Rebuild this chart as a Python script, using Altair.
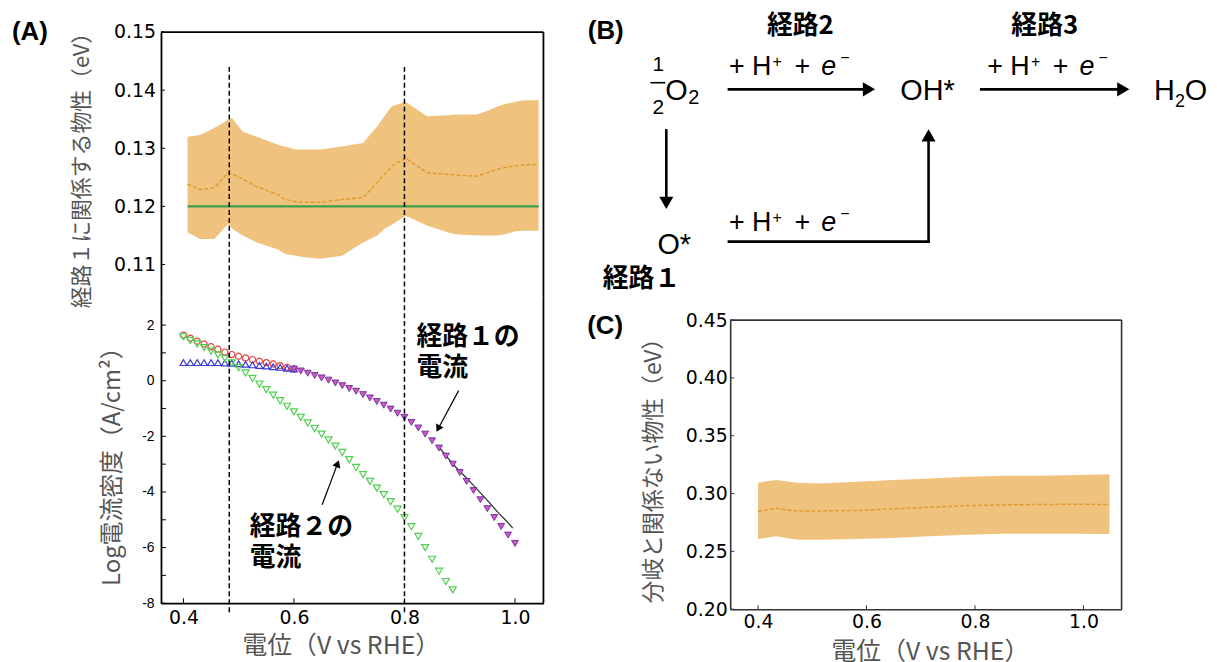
import altair as alt
import pandas as pd

# ---------------- Panel A (upper): property related to path 1 ----------------
TOP_X = [0.4075, 0.430, 0.4557, 0.4813, 0.4877, 0.507, 0.5326, 0.5712, 0.584, 0.6032,
         0.6224, 0.648, 0.6867, 0.7251, 0.7508, 0.7636, 0.7765, 0.802, 0.8406, 0.8791,
         0.8918, 0.9305, 0.9432, 0.9689, 0.9817, 1.001, 1.0138, 1.0427]
TOP_UPPER = [0.1320, 0.1323, 0.1335, 0.1349, 0.1352, 0.1329, 0.1320, 0.1306, 0.1303, 0.1298,
             0.1298, 0.1298, 0.1303, 0.1309, 0.1338, 0.1355, 0.1372, 0.1380, 0.1355, 0.1357,
             0.1358, 0.1358, 0.1362, 0.1372, 0.1376, 0.1380, 0.1382, 0.1383]
TOP_LOWER = [0.1155, 0.1144, 0.1144, 0.1170, 0.1162, 0.1150, 0.1138, 0.1126, 0.1118, 0.1115,
             0.1112, 0.1110, 0.1115, 0.1138, 0.1150, 0.1161, 0.1168, 0.1184, 0.1167, 0.1155,
             0.1152, 0.1150, 0.1150, 0.1150, 0.1152, 0.1157, 0.1158, 0.1158]
TOP_MEAN = [0.1238, 0.1229, 0.1232, 0.1258, 0.1256, 0.1247, 0.1234, 0.1220, 0.1212, 0.1208,
            0.1207, 0.1207, 0.1212, 0.1215, 0.1241, 0.1255, 0.1269, 0.1283, 0.1258, 0.1255,
            0.1254, 0.1252, 0.1256, 0.1264, 0.1267, 0.1270, 0.1271, 0.1272]
GREEN_X = [0.4075, 1.0427]
GREEN_Y = [0.12, 0.12]
VLINE_X = [0.483, 0.80]
VLINE_TOP = [0.144, 0.144]
TOP_TICKS = [0.11, 0.12, 0.13, 0.14, 0.15]

# ---------------- Panel A (lower): log current density ----------------
CURR_X = [0.4, 0.4125, 0.425, 0.4375, 0.45, 0.4625, 0.475, 0.4875, 0.5, 0.5125,
          0.525, 0.5375, 0.55, 0.5625, 0.575, 0.5875, 0.6, 0.6125, 0.625, 0.6375,
          0.65, 0.6625, 0.675, 0.6875, 0.7, 0.7125, 0.725, 0.7375, 0.75, 0.7625,
          0.775, 0.7875, 0.8, 0.8125, 0.825, 0.8375, 0.85, 0.8625, 0.875, 0.8875,
          0.9, 0.9125, 0.925, 0.9375, 0.95, 0.9625, 0.975, 0.9875, 1.0]
TOTAL = [1.64, 1.53, 1.42, 1.32, 1.22, 1.13, 1.03, 0.94, 0.88, 0.82,
         0.76, 0.70, 0.65, 0.60, 0.54, 0.48, 0.42, 0.35, 0.27, 0.19,
         0.10, 0.02, -0.08, -0.18, -0.28, -0.38, -0.50, -0.62, -0.75, -0.88,
         -1.02, -1.17, -1.32, -1.50, -1.70, -1.92, -2.16, -2.42, -2.71, -3.00,
         -3.30, -3.62, -3.95, -4.28, -4.60, -4.92, -5.24, -5.55, -5.85]
PATH2 = [1.58, 1.45, 1.32, 1.19, 1.06, 0.93, 0.80, 0.64, 0.47, 0.28,
         0.08, -0.12, -0.32, -0.52, -0.72, -0.92, -1.12, -1.32, -1.52, -1.72,
         -1.92, -2.13, -2.35, -2.58, -2.84, -3.12, -3.38, -3.62, -3.86, -4.10,
         -4.35, -4.62, -4.92, -5.25, -5.60, -6.00, -6.42, -6.85, -7.22, -7.52]
PATH1_LOW = [0.65, 0.65, 0.65, 0.65, 0.65, 0.65, 0.64, 0.63, 0.61, 0.59,
             0.57, 0.55, 0.53, 0.50, 0.48, 0.45, 0.42]
FIT_X = [0.86, 0.89, 0.91, 0.93, 0.95, 0.97, 0.985, 0.996]
FIT_Y = [-2.33, -3.05, -3.45, -3.87, -4.30, -4.75, -5.05, -5.30]
ANN_TEXT = ["経路１の\n電流", "経路２の\n電流"]
ANN_X = [0.8216, 0.52]
ANN_Y = [2.02, -4.80]
ARR_X1 = [0.898, 0.651]
ARR_Y1 = [-0.357, -4.46]
ARR_X2 = [0.861, 0.679]
ARR_Y2 = [-1.725, -2.98]
ARR_ANGLE = [208, 20]
LOW_XTICKS = [0.4, 0.6, 0.8, 1.0]
LOW_YTICKS = [-8, -7, -6, -5, -4, -3, -2, -1, 0, 1, 2]

# ---------------- Panel C ----------------
C_X = [0.4, 0.434, 0.461, 0.474, 0.514, 0.582, 0.649, 0.716, 0.784, 0.851, 0.918, 0.986, 1.048]
C_UPPER = [0.3094, 0.3117, 0.3100, 0.3094, 0.3088, 0.3103, 0.3117, 0.3131, 0.3145, 0.3154, 0.3154, 0.3160, 0.3166]
C_LOWER = [0.2607, 0.2630, 0.2610, 0.2601, 0.2601, 0.2607, 0.2616, 0.2630, 0.2644, 0.2653, 0.2653, 0.2653, 0.2650]
C_MEAN = [0.2845, 0.2873, 0.2853, 0.2850, 0.2850, 0.2853, 0.2868, 0.2882, 0.2896, 0.2902, 0.2905, 0.2908, 0.2905]
C_YTICKS = [0.20, 0.25, 0.30, 0.35, 0.40, 0.45]

# ---------------- Panel B (reaction scheme) ----------------
B_SEG_X1 = [732, 986, 669, 732, 933]
B_SEG_Y1 = [86.7, 86.7, 128, 240, 240]
B_SEG_X2 = [870, 1126, 669, 933, 933]
B_SEG_Y2 = [86.7, 86.7, 197, 240, 137]
B_HEAD_X = [873, 1129, 669, 933]
B_HEAD_Y = [86.7, 86.7, 201, 133]
B_HEAD_ANGLE = [90, 90, 180, 0]
B_LABEL_TEXT = ["経路2", "経路3", "経路１"]
B_LABEL_X = [804, 1050, 644]
B_LABEL_Y = [23, 23, 278]
B_CHEM_C_TEXT = ["OH*", "O*", "1", "2"]
B_CHEM_C_X = [932, 677, 661, 661]
B_CHEM_C_Y = [97, 252, 68, 112]
B_CHEM_C_SIZE = [29, 29, 21, 21]
B_CHEM_L_TEXT = ["H", "2", "O", "O", "2"]
B_CHEM_L_X = [1160, 1181, 1191, 668, 691]
B_CHEM_L_Y = [97, 104, 97, 97, 101]
B_CHEM_L_SIZE = [29, 18, 29, 29, 20]
B_RXN_BASE_X = [732, 992, 732]
B_RXN_BASE_Y = [72, 72, 229]
RXN_TOKENS = ["+ H", "+", "+", "−"]
RXN_DX = [0, 44, 66, 112]
RXN_DY = [0, -8, 0, -12]
RXN_SIZE = [27, 16, 27, 16]
RXN_E_DX = 93

BAND = "#EFC37E"
MEAN = "#DF9B30"
CJK = "Noto Sans CJK JP"
TITLE_C = "#555555"

one = pd.DataFrame({"k": [0]})

# ======================= Panel A top =======================
W_A, H_AT, H_AB = 385, 267, 308
XA = alt.Scale(domain=[0.3594, 1.0515], nice=False, zero=False)
YAT = alt.Scale(domain=[0.10436, 0.15], nice=False, zero=False)
ax_top_y = alt.Axis(values=TOP_TICKS, format=".2f", ticks=False, labelPadding=5.5,
                    labelFont="DejaVu Sans", labelFontSize=19, labelColor="black",
                    domainColor="black", domainWidth=1.8, grid=False,
                    title="経路１に関係する物性（eV）", titleFont=CJK, titleFontSize=22,
                    titleFontWeight="normal", titleColor=TITLE_C, titlePadding=20)
xt = alt.X("x:Q", scale=XA, axis=None)

top_df = pd.DataFrame({"x": TOP_X, "hi": TOP_UPPER, "lo": TOP_LOWER, "m": TOP_MEAN})
band_t = alt.Chart(top_df).mark_area(color=BAND, opacity=1).encode(
    x=xt, y=alt.Y("hi:Q", scale=YAT, axis=ax_top_y), y2="lo:Q")
mean_t = alt.Chart(top_df).mark_line(color=MEAN, strokeWidth=1.5, strokeDash=[4, 2]).encode(
    x=xt, y=alt.Y("m:Q", scale=YAT, axis=ax_top_y))
green_t = alt.Chart(pd.DataFrame({"x": GREEN_X, "y": GREEN_Y})).mark_line(
    color="#3E9E4E", strokeWidth=2.5).encode(x=xt, y=alt.Y("y:Q", scale=YAT, axis=ax_top_y))
vl_t = alt.Chart(pd.DataFrame({"x": VLINE_X, "y": VLINE_TOP})).mark_rule(
    color="black", strokeWidth=1.5, strokeDash=[5, 3]).encode(
    x=xt, y=alt.Y("y:Q", scale=YAT, axis=ax_top_y), y2=alt.value(H_AT))
tk_t = alt.Chart(pd.DataFrame({"y": TOP_TICKS})).mark_rule(color="black", strokeWidth=1).encode(
    x=alt.value(0), x2=alt.value(4), y=alt.Y("y:Q", scale=YAT, axis=ax_top_y))
fr_t1 = alt.Chart(one).mark_rule(color="black", strokeWidth=1.8).encode(
    x=alt.value(0), x2=alt.value(W_A), y=alt.value(0))
fr_t2 = alt.Chart(one).mark_rule(color="black", strokeWidth=1.8).encode(
    x=alt.value(W_A), y=alt.value(0), y2=alt.value(H_AT))
lab_a = alt.Chart(one).mark_text(font="Liberation Sans", fontSize=26, fontWeight="bold",
                                 align="left", baseline="middle").encode(
    x=alt.value(-150), y=alt.value(0), text=alt.value("(A)"))
inv_a = alt.Chart(one).mark_point(opacity=0, size=1).encode(x=alt.value(-150), y=alt.value(-21))
a_top = alt.layer(band_t, mean_t, green_t, vl_t, tk_t, fr_t1, fr_t2, lab_a, inv_a).properties(
    width=W_A, height=H_AT)

# ======================= Panel A bottom =======================
YAB = alt.Scale(domain=[-8, 3], nice=False, zero=False)
ax_b_x = alt.Axis(values=LOW_XTICKS, format=".1f", ticks=False, labelPadding=5,
                  labelFont="DejaVu Sans", labelFontSize=19, labelColor="black",
                  domainColor="black", domainWidth=1.8, grid=False,
                  title="電位（V vs RHE）", titleFont=CJK, titleFontSize=25,
                  titleFontWeight="normal", titleColor=TITLE_C, titlePadding=7,
                  titleX=181, titleAlign="center")
ax_b_y = alt.Axis(values=[-8, -6, -4, -2, 0, 2], labelExpr="datum.value + ''", ticks=False,
                  labelPadding=7, labelFont="Liberation Sans", labelFontSize=14,
                  labelColor="black", domainColor="black", domainWidth=1.8, grid=False,
                  title="Log電流密度（A/cm²）", titleFont=CJK, titleFontSize=24,
                  titleFontWeight="normal", titleColor=TITLE_C, titlePadding=17,
                  titleY=164, titleAlign="center")
xb = alt.X("x:Q", scale=XA, axis=ax_b_x)
yb = lambda f: alt.Y(f, scale=YAB, axis=ax_b_y)

fit_b = alt.Chart(pd.DataFrame({"x": FIT_X, "y": FIT_Y})).mark_line(
    color="#333333", strokeWidth=1.3).encode(x=xb, y=yb("y:Q"))
red_b = alt.Chart(pd.DataFrame({"x": CURR_X[:17], "y": TOTAL[:17]})).mark_point(
    shape="circle", filled=False, color="#E8413C", size=38, strokeWidth=1.2, opacity=1).encode(
    x=xb, y=yb("y:Q"))
blue_b = alt.Chart(pd.DataFrame({"x": CURR_X[:17], "y": PATH1_LOW})).mark_point(
    shape="triangle-up", filled=False, color="#3A3AD0", size=45, strokeWidth=1.2, opacity=1).encode(
    x=xb, y=yb("y:Q"))
green_b = alt.Chart(pd.DataFrame({"x": CURR_X[:40], "y": PATH2})).mark_point(
    shape="triangle-down", filled=False, color="#4DD04D", size=50, strokeWidth=1.2, opacity=1).encode(
    x=xb, y=yb("y:Q"))
purple_b = alt.Chart(pd.DataFrame({"x": CURR_X[16:], "y": TOTAL[16:]})).mark_point(
    shape="triangle-down", filled=True, fill="#CC58C8", stroke="#6A2A9A", size=48,
    strokeWidth=0.9, opacity=1).encode(x=xb, y=yb("y:Q"))
vl_b = alt.Chart(pd.DataFrame({"x": VLINE_X})).mark_rule(
    color="black", strokeWidth=1.5, strokeDash=[5, 3]).encode(
    x=xb, y=alt.value(0), y2=alt.value(H_AB + 10))
ann_b = alt.Chart(pd.DataFrame({"x": ANN_X, "y": ANN_Y, "t": ANN_TEXT})).mark_text(
    font=CJK, fontSize=26, fontWeight="bold", align="left", baseline="top",
    lineBreak="\n", lineHeight=31, color="black").encode(x=xb, y=yb("y:Q"), text="t:N")
arr_df = pd.DataFrame({"x": ARR_X1, "y": ARR_Y1, "x2": ARR_X2, "y2": ARR_Y2, "a": ARR_ANGLE})
arr_b = alt.Chart(arr_df).mark_rule(color="black", strokeWidth=1.2).encode(
    x=xb, y=yb("y:Q"), x2="x2:Q", y2="y2:Q")
head_b = alt.Chart(arr_df).mark_point(shape="triangle-up", filled=True, color="black",
                                      size=70, opacity=1).encode(
    x=alt.X("x2:Q", scale=XA, axis=ax_b_x), y=yb("y2:Q"), angle=alt.Angle("a:Q", scale=None))
tkx_b = alt.Chart(pd.DataFrame({"x": LOW_XTICKS})).mark_rule(color="black", strokeWidth=1).encode(
    x=xb, y=alt.value(H_AB), y2=alt.value(H_AB - 5))
tky_b = alt.Chart(pd.DataFrame({"y": LOW_YTICKS})).mark_rule(color="black", strokeWidth=1).encode(
    x=alt.value(0), x2=alt.value(5), y=yb("y:Q"))
fr_b = alt.Chart(one).mark_rule(color="black", strokeWidth=1.8).encode(
    x=alt.value(W_A), y=alt.value(0), y2=alt.value(H_AB))
a_bot = alt.layer(fit_b, red_b, blue_b, green_b, purple_b, vl_b, ann_b, arr_b, head_b,
                  tkx_b, tky_b, fr_b).properties(width=W_A, height=H_AB)

left = alt.vconcat(a_top, a_bot, spacing=0, bounds="flush").resolve_scale(
    x="independent", y="independent")

# ======================= Panel B =======================
W_B, H_B = 482, 270
XB = alt.Scale(domain=[733.3, 1215.3], nice=False, zero=False)
YB = alt.Scale(domain=[29, 299], nice=False, zero=False, reverse=True)
bx = lambda f: alt.X(f, scale=XB, axis=None)
by = lambda f: alt.Y(f, scale=YB, axis=None)

seg_df = pd.DataFrame({"x": B_SEG_X1, "y": B_SEG_Y1, "x2": B_SEG_X2, "y2": B_SEG_Y2})
b_seg = alt.Chart(seg_df).mark_rule(color="black", strokeWidth=2.6, strokeCap="square").encode(
    x=bx("x:Q"), y=by("y:Q"), x2="x2:Q", y2="y2:Q")
b_head = alt.Chart(pd.DataFrame({"x": B_HEAD_X, "y": B_HEAD_Y, "a": B_HEAD_ANGLE})).mark_point(
    shape="triangle-up", filled=True, color="black", size=200, opacity=1).encode(
    x=bx("x:Q"), y=by("y:Q"), angle=alt.Angle("a:Q", scale=None))
b_lab = alt.Chart(pd.DataFrame({"x": B_LABEL_X, "y": B_LABEL_Y, "t": B_LABEL_TEXT})).mark_text(
    font=CJK, fontSize=26, fontWeight="bold", align="center", baseline="middle", color="black").encode(
    x=bx("x:Q"), y=by("y:Q"), text="t:N")
b_chem_c = alt.Chart(pd.DataFrame({"x": B_CHEM_C_X, "y": B_CHEM_C_Y, "t": B_CHEM_C_TEXT,
                                   "s": B_CHEM_C_SIZE})).mark_text(
    font="Liberation Sans", align="center", baseline="alphabetic", color="black").encode(
    x=bx("x:Q"), y=by("y:Q"), text="t:N", size=alt.Size("s:Q", scale=None))
b_chem_l = alt.Chart(pd.DataFrame({"x": B_CHEM_L_X, "y": B_CHEM_L_Y, "t": B_CHEM_L_TEXT,
                                   "s": B_CHEM_L_SIZE})).mark_text(
    font="Liberation Sans", align="left", baseline="alphabetic", color="black").encode(
    x=bx("x:Q"), y=by("y:Q"), text="t:N", size=alt.Size("s:Q", scale=None))
b_bar = alt.Chart(pd.DataFrame({"x": [653], "x2": [668], "y": [80]})).mark_rule(
    color="black", strokeWidth=1.6).encode(x=bx("x:Q"), x2="x2:Q", y=by("y:Q"))

rxn_rows = []
for bxv, byv in zip(B_RXN_BASE_X, B_RXN_BASE_Y):
    for t, dx, dy, s in zip(RXN_TOKENS, RXN_DX, RXN_DY, RXN_SIZE):
        rxn_rows.append({"x": bxv + dx, "y": byv + dy, "t": t, "s": s})
rxn_df = pd.DataFrame(rxn_rows)
e_df = pd.DataFrame({"x": [v + RXN_E_DX for v in B_RXN_BASE_X], "y": B_RXN_BASE_Y,
                     "t": ["e"] * len(B_RXN_BASE_X)})
b_rxn = alt.Chart(rxn_df).mark_text(
    font="Liberation Sans", align="left", baseline="alphabetic", color="black").encode(
    x=bx("x:Q"), y=by("y:Q"), text="t:N", size=alt.Size("s:Q", scale=None))
b_e = alt.Chart(e_df).mark_text(
    font="Liberation Sans", fontSize=27, fontStyle="italic", align="left", baseline="alphabetic",
    color="black").encode(x=bx("x:Q"), y=by("y:Q"), text="t:N")
b_panel = alt.Chart(one).mark_text(font="Liberation Sans", fontSize=26, fontWeight="bold",
                                   align="left", baseline="middle").encode(
    x=alt.value(590 - 733.3), y=alt.value(-1), text=alt.value("(B)"))
inv_b = alt.Chart(one).mark_point(opacity=0, size=1).encode(x=alt.value(0), y=alt.value(-21))
b_chart = alt.layer(b_seg, b_head, b_bar, b_lab, b_chem_c, b_chem_l, b_rxn, b_e, b_panel,
                    inv_b).properties(width=W_B, height=H_B)

# ======================= Panel C =======================
W_C, H_C = 394, 291
XC = alt.Scale(domain=[0.3487, 1.0703], nice=False, zero=False)
YC = alt.Scale(domain=[0.2, 0.45], nice=False, zero=False)
ax_c_x = alt.Axis(values=LOW_XTICKS, format=".1f", ticks=False, labelPadding=3,
                  labelFont="DejaVu Sans", labelFontSize=19, labelColor="black",
                  domainColor="#333333", domainWidth=1.6, grid=False,
                  title="電位（V vs RHE）", titleFont=CJK, titleFontSize=25,
                  titleFontWeight="normal", titleColor=TITLE_C, titlePadding=9,
                  titleX=201, titleAlign="center")
ax_c_y = alt.Axis(values=C_YTICKS, format=".2f", ticks=False, labelPadding=3,
                  labelFont="DejaVu Sans", labelFontSize=19, labelColor="black",
                  domainColor="#333333", domainWidth=1.6, grid=False,
                  title="分岐と関係ない物性（eV）", titleFont=CJK, titleFontSize=23,
                  titleFontWeight="normal", titleColor=TITLE_C, titlePadding=20)
cx = alt.X("x:Q", scale=XC, axis=ax_c_x)
cy = lambda f: alt.Y(f, scale=YC, axis=ax_c_y)
c_df = pd.DataFrame({"x": C_X, "hi": C_UPPER, "lo": C_LOWER, "m": C_MEAN})
c_band = alt.Chart(c_df).mark_area(color=BAND, opacity=1).encode(x=cx, y=cy("hi:Q"), y2="lo:Q")
c_mean = alt.Chart(c_df).mark_line(color=MEAN, strokeWidth=1.5, strokeDash=[4, 2]).encode(
    x=cx, y=cy("m:Q"))
c_tkx = alt.Chart(pd.DataFrame({"x": LOW_XTICKS})).mark_rule(color="#333333", strokeWidth=1).encode(
    x=cx, y=alt.value(H_C), y2=alt.value(H_C - 4))
c_tky = alt.Chart(pd.DataFrame({"y": C_YTICKS})).mark_rule(color="#333333", strokeWidth=1).encode(
    x=alt.value(0), x2=alt.value(4), y=cy("y:Q"))
c_fr1 = alt.Chart(one).mark_rule(color="#333333", strokeWidth=1.6).encode(
    x=alt.value(0), x2=alt.value(W_C), y=alt.value(0))
c_fr2 = alt.Chart(one).mark_rule(color="#333333", strokeWidth=1.6).encode(
    x=alt.value(W_C), y=alt.value(0), y2=alt.value(H_C))
c_panel = alt.Chart(one).mark_text(font="Liberation Sans", fontSize=26, fontWeight="bold",
                                   align="left", baseline="middle").encode(
    x=alt.value(-144), y=alt.value(6), text=alt.value("(C)"))
c_chart = alt.layer(c_band, c_mean, c_tkx, c_tky, c_fr1, c_fr2, c_panel).properties(
    width=W_C, height=H_C)

right = alt.vconcat(b_chart, c_chart, spacing=20, bounds="flush").resolve_scale(
    x="independent", y="independent")

chart = alt.hconcat(left, right, spacing=43).resolve_scale(
    x="independent", y="independent").properties(
    padding={"left": 3, "top": 0, "right": 0, "bottom": 0}).configure_view(stroke=None)

chart.save("out.html", embed_options={"renderer": "svg", "actions": False})
